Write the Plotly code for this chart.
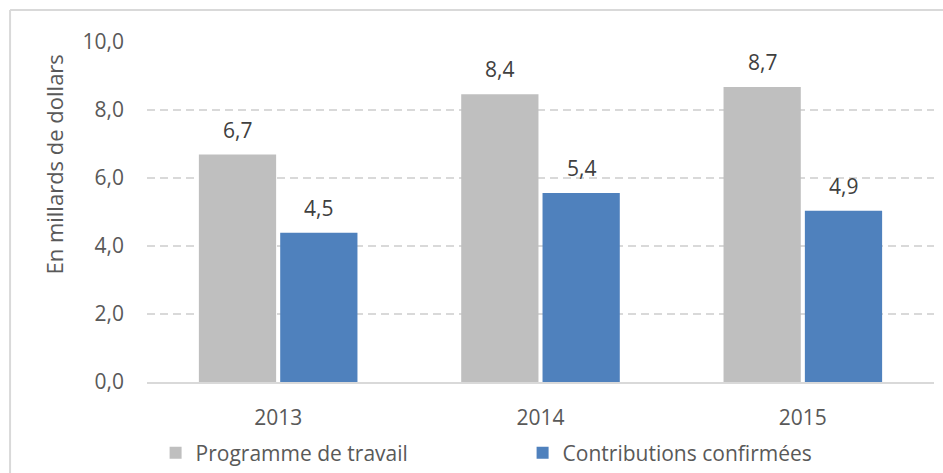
import plotly.graph_objects as go

years = ["2013", "2014", "2015"]
programme = [6.69, 8.46, 8.68]
contributions = [4.39, 5.56, 5.04]
programme_labels = ["6,7", "8,4", "8,7"]
contributions_labels = ["4,5", "5,4", "4,9"]
y_ticks = [0, 2, 4, 6, 8, 10]
y_title = "En millards de dollars"

FONT = "Open Sans"
GRAY = "#BFBFBF"
BLUE = "#4F81BD"
BARGAP = 0.38
BARGROUPGAP = 0.05
FS = 21

fig = go.Figure()
fig.add_trace(go.Bar(name="Programme de travail", x=years, y=programme,
                     marker=dict(color=GRAY, line=dict(width=0))))
fig.add_trace(go.Bar(name="Contributions confirmées", x=years, y=contributions,
                     marker=dict(color=BLUE, line=dict(width=0))))

# data labels above bars
off = (1 - BARGAP) / 4
for i in range(len(years)):
    for dx, val, lab in ((-off, programme[i], programme_labels[i]),
                         (off, contributions[i], contributions_labels[i])):
        fig.add_annotation(x=i + dx, y=val, xref="x", yref="y", text=lab,
                           showarrow=False, yanchor="middle", yshift=25,
                           font=dict(family=FONT, size=FS, color="#404040"))

# y-axis title
fig.add_annotation(text=y_title, xref="paper", yref="paper", x=-0.118, y=0.64,
                   textangle=-90, showarrow=False, xanchor="center", yanchor="middle",
                   font=dict(family=FONT, size=22, color="#595959"))

# outer border
fig.add_shape(type="line", xref="paper", yref="paper", x0=-0.174, x1=1.2, y0=1.094, y1=1.094,
              line=dict(color="#D9D9D9", width=2))
fig.add_shape(type="line", xref="paper", yref="paper", x0=-0.174, x1=-0.174, y0=1.094, y1=-0.4,
              line=dict(color="#D9D9D9", width=2))

fig.update_layout(
    width=943, height=473,
    margin=dict(l=147, r=9, t=42, b=91, autoexpand=False),
    paper_bgcolor="white", plot_bgcolor="white",
    separators=", ",
    barmode="group", bargap=BARGAP, bargroupgap=BARGROUPGAP,
    font=dict(family=FONT, size=FS, color="#595959"),
    showlegend=True,
    legend=dict(orientation="h", xref="container", yref="container",
                x=0.165, xanchor="left", y=0.042, yanchor="middle",
                entrywidth=322, entrywidthmode="pixels",
                font=dict(family=FONT, size=FS, color="#595959"),
                bgcolor="rgba(0,0,0,0)", traceorder="normal"),
)
fig.update_xaxes(showgrid=False, showline=True, linecolor="#D9D9D9", linewidth=1.5,
                 ticks="", ticklabelstandoff=16, automargin=False,
                 tickfont=dict(family=FONT, size=FS, color="#595959"))
fig.update_yaxes(range=[0, 10], tickvals=y_ticks, tickformat=".1f",
                 showgrid=True, gridcolor="#D9D9D9", gridwidth=1.5, griddash="8px,5px",
                 zeroline=False, showline=False, ticks="", ticklabelstandoff=22,
                 automargin=False,
                 tickfont=dict(family=FONT, size=FS, color="#595959"))

fig.write_html("out.html", config={"displayModeBar": False},
               post_script="document.body.style.margin='0';document.body.style.overflow='hidden';")
